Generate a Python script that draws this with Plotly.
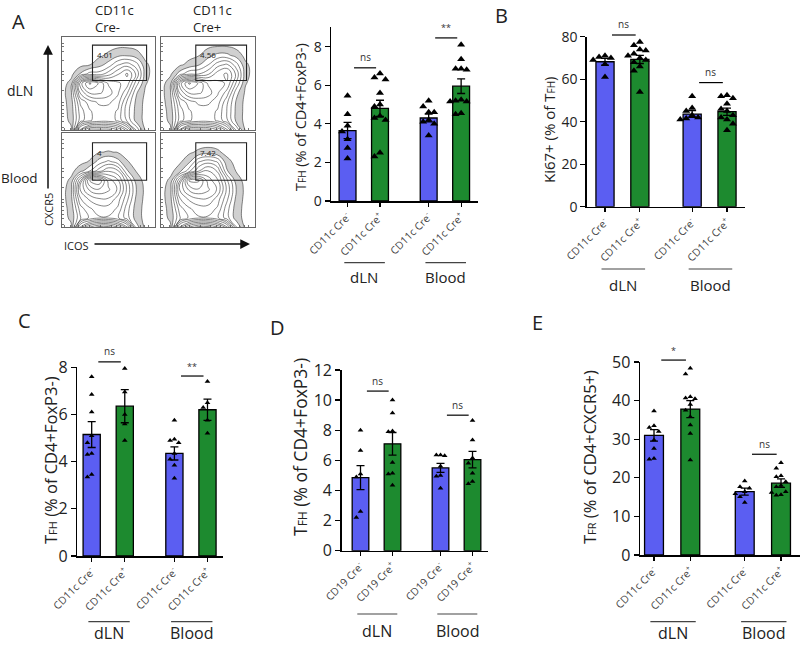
import plotly.graph_objects as go

W, H = 800, 645
FONT = "Open Sans"
BLUE = "#5b5ef2"
GREEN = "#1d8a2f"
TXT = "#222222"

# ======================= DATA =======================
CD11C_TICKS = ["CD11c Cre<sup>-</sup>", "CD11c Cre<sup>+</sup>",
               "CD11c Cre<sup>-</sup>", "CD11c Cre<sup>+</sup>"]
CD19_TICKS = ["CD19 Cre<sup>-</sup>", "CD19 Cre<sup>+</sup>",
              "CD19 Cre<sup>-</sup>", "CD19 Cre<sup>+</sup>"]
GROUP_NAMES = ["dLN", "Blood"]

# Panel A (bar chart)
A_MEAN = [3.65, 4.8, 4.3, 5.95]
A_SEM = [0.42, 0.42, 0.2, 0.38]
A_POINTS = [
    [5.45, 4.5, 3.9, 3.6, 3.2, 2.75, 2.2],
    [6.6, 6.4, 6.3, 5.6, 5.0, 4.9, 4.4, 4.3, 4.2, 2.5, 2.3],
    [5.2, 4.9, 4.6, 4.6, 4.2, 4.1, 4.0, 3.4],
    [8.1, 7.35, 6.85, 6.85, 6.8, 5.25, 5.2, 5.15, 5.15, 4.55, 4.5],
]
A_SIG = ["ns", "**"]

# Panel B
B_MEAN = [68.2, 69.3, 43.6, 44.7]
B_SEM = [1.6, 1.9, 1.6, 1.7]
B_POINTS = [
    [71, 70.5, 70, 69, 67, 61],
    [77.5, 76, 74, 73.5, 72, 71, 70, 69, 68, 66, 64, 54],
    [52, 46.5, 45, 43, 42, 41.5, 41],
    [52.5, 52, 51, 48.5, 46, 45, 43, 42, 41, 39, 36],
]
B_SIG = ["ns", "ns"]

# Panel C
C_MEAN = [5.15, 6.35, 4.35, 6.2]
C_SEM = [0.55, 0.7, 0.28, 0.45]
C_POINTS = [
    [7.6, 6.85, 6.1, 5.1, 4.8, 4.35, 4.3, 3.45, 3.35],
    [7.95, 6.95, 6.0, 5.6, 4.9],
    [5.75, 4.95, 4.9, 4.8, 4.35, 4.1, 3.85, 3.3],
    [7.4, 6.5, 6.3, 5.75, 5.2],
]
C_SIG = ["ns", "**"]

# Panel D
D_MEAN = [4.85, 7.1, 5.5, 6.05]
D_SEM = [0.8, 0.75, 0.3, 0.55]
D_POINTS = [
    [8.0, 6.65, 5.1, 4.9, 2.6, 2.2],
    [10.0, 9.15, 7.95, 7.9, 5.85, 5.15, 5.1, 4.35],
    [6.35, 6.35, 6.3, 5.6, 5.0, 4.95, 4.15],
    [8.65, 7.35, 6.15, 5.8, 5.15, 4.6, 4.45],
]
D_SIG = ["ns", "ns"]

# Panel E
E_MEAN = [31.0, 37.8, 16.4, 18.6]
E_SEM = [1.5, 2.2, 0.9, 1.1]
E_POINTS = [
    [37.3, 33.5, 33.0, 32.0, 29.8, 27.6, 25.0, 24.8],
    [48.4, 46.9, 41.0, 40.7, 40.5, 39.0, 37.5, 35.8, 33.7, 31.5, 24.6],
    [19.2, 17.7, 17.3, 16.4, 15.9, 15.1, 13.6],
    [23.9, 22.5, 20.5, 20.3, 19.0, 18.0, 17.7, 16.4, 16.2, 15.6, 15.5],
]
E_SIG = ["*", "ns"]

# Panel A flow plots: gate percentages and estimated density grids
# (rows = CXCR5 level bottom->top, columns = ICOS level left->right)
FLOW_GATE_PCT = ["4.01", "4.56", "4", "7.42"]
FLOW_DLN_CRENEG = [
    [0, 0.2, 7, 9, 9, 9, 8, 6, 2.5, 0.2, 0],
    [0, 0.5, 3, 4, 4.5, 4.5, 4, 2.5, 0.8, 0.1, 0],
    [0, 0.6, 3, 4, 4.5, 4.5, 4, 2.2, 0.8, 0.1, 0],
    [0, 0.7, 3.5, 4.5, 5, 5, 4.5, 2.5, 0.9, 0.1, 0],
    [0, 0.9, 5, 6.5, 6.5, 6, 5, 3.5, 1.2, 0.2, 0],
    [0, 0.6, 6, 8, 7, 5.5, 5, 4.5, 2.2, 0.4, 0],
    [0, 0.1, 1.2, 2.2, 2.2, 3, 4, 5, 3.2, 0.6, 0],
    [0, 0, 0.1, 0.3, 0.8, 1.4, 2.5, 3, 2.2, 0.5, 0],
    [0, 0, 0, 0, 0.2, 0.5, 0.9, 1.0, 0.7, 0.1, 0],
    [0, 0, 0, 0, 0, 0.1, 0.2, 0.2, 0.1, 0, 0],
    [0, 0, 0, 0, 0, 0, 0, 0, 0, 0, 0],
]
FLOW_DLN_CREPOS = [
    [0, 0.2, 7, 9, 9, 9, 8, 6, 2.5, 0.2, 0],
    [0, 0.5, 3, 4, 4.5, 4.5, 4, 2.8, 0.9, 0.1, 0],
    [0, 0.6, 3, 4, 4.5, 4.5, 4, 2.6, 0.9, 0.1, 0],
    [0, 0.8, 3.5, 4.5, 5, 5, 4.5, 2.8, 1.0, 0.1, 0],
    [0, 1.0, 5, 6.5, 6.5, 6, 5, 3.8, 1.4, 0.2, 0],
    [0, 0.8, 6, 8, 7, 5.5, 5, 4.8, 2.5, 0.4, 0],
    [0, 0.2, 1.5, 2.5, 2.6, 3.2, 4.5, 5, 3.2, 0.6, 0],
    [0, 0, 0.2, 0.6, 1.0, 1.8, 3, 3.5, 2.2, 0.5, 0],
    [0, 0, 0, 0.1, 0.3, 0.8, 1.3, 1.3, 0.8, 0.1, 0],
    [0, 0, 0, 0, 0, 0.2, 0.3, 0.3, 0.1, 0, 0],
    [0, 0, 0, 0, 0, 0, 0, 0, 0, 0, 0],
]
FLOW_BLOOD_CRENEG = [
    [0, 0.2, 6, 8, 9, 9, 8, 6, 1.5, 0.1, 0],
    [0, 0.5, 2.5, 3.5, 4, 4, 3.5, 2.2, 0.7, 0.1, 0],
    [0, 0.6, 3, 4, 4.5, 4.5, 4, 2.2, 0.7, 0.1, 0],
    [0, 0.8, 4, 5, 5.5, 5.5, 4.5, 2.8, 0.9, 0.1, 0],
    [0, 0.8, 5, 6.5, 7, 6.5, 5.5, 3.2, 1.1, 0.1, 0],
    [0, 0.5, 4, 8, 8.5, 6, 5, 2.8, 0.7, 0.1, 0],
    [0, 0.1, 0.8, 1.8, 3, 4, 3.5, 1.2, 0.3, 0, 0],
    [0, 0, 0.1, 0.4, 1.4, 2, 1.4, 0.4, 0.1, 0, 0],
    [0, 0, 0, 0.1, 0.3, 0.4, 0.3, 0.1, 0, 0, 0],
    [0, 0, 0, 0, 0, 0, 0, 0, 0, 0, 0],
    [0, 0, 0, 0, 0, 0, 0, 0, 0, 0, 0],
]
FLOW_BLOOD_CREPOS = [
    [0, 0.2, 6, 8, 9, 9, 8, 6, 2, 0.1, 0],
    [0, 0.5, 2.5, 3.5, 4, 4, 3.5, 2.2, 0.7, 0.1, 0],
    [0, 0.6, 3, 4, 4.5, 4.5, 4, 2.2, 0.7, 0.1, 0],
    [0, 0.8, 4, 5, 5.5, 5.5, 4.5, 2.8, 0.9, 0.1, 0],
    [0, 0.8, 5, 6.5, 7, 6.5, 5.5, 3.2, 1.1, 0.1, 0],
    [0, 0.5, 4, 8, 8, 6, 5, 2.8, 0.7, 0.1, 0],
    [0, 0.1, 0.8, 2.3, 4, 5, 4, 1.2, 0.3, 0, 0],
    [0, 0, 0.2, 0.9, 2.5, 3, 2.5, 0.6, 0.1, 0, 0],
    [0, 0, 0, 0.2, 0.5, 0.7, 0.5, 0.1, 0, 0, 0],
    [0, 0, 0, 0, 0, 0, 0, 0, 0, 0, 0],
    [0, 0, 0, 0, 0, 0, 0, 0, 0, 0, 0],
]

# ======================= LAYOUT CONSTANTS =======================
POS = [0, 1, 2.5, 3.5]           # bar slots on the x axis
BAR_W = 0.52

PANELS = [
    dict(mean=A_MEAN, sem=A_SEM, pts=A_POINTS, sig=A_SIG, sig_y=[6.9, 8.45],
         ticks=CD11C_TICKS, px=(331, 478), py=(27.3, 201), xr=(-0.51, 4.02), yr=(0, 9), dtick=2,
         msize=7, tfont=14, title="T<span style='font-size:10px'>FH</span> (% of CD4+FoxP3-)",
         title_xy=(300, 117), title_size=14.5, grp_line=262.7, grp_txt=277, grp_size=15),
    dict(mean=B_MEAN, sem=B_SEM, pts=B_POINTS, sig=B_SIG, sig_y=[80.8, 58.4],
         ticks=CD11C_TICKS, px=(586.7, 745), py=(36.7, 206.7), xr=(-0.525, 4.016), yr=(0, 80), dtick=20,
         msize=7, tfont=14, title="Ki67+ (% of T<span style='font-size:10px'>FH</span>)",
         title_xy=(549, 130), title_size=15, grp_line=269, grp_txt=285, grp_size=15),
    dict(mean=C_MEAN, sem=C_SEM, pts=C_POINTS, sig=C_SIG, sig_y=[8.23, 7.63],
         ticks=CD11C_TICKS, px=(77.3, 222.7), py=(367.3, 556), xr=(-0.435, 3.96), yr=(0, 8), dtick=2,
         msize=5, tfont=16, title="T<span style='font-size:11px'>FH</span> (% of CD4+FoxP3-)",
         title_xy=(50, 460), title_size=16.5, grp_line=621.7, grp_txt=633, grp_size=16),
    dict(mean=D_MEAN, sem=D_SEM, pts=D_POINTS, sig=D_SIG, sig_y=[10.6, 9.0],
         ticks=CD19_TICKS, px=(341.7, 488), py=(370, 550.7), xr=(-0.5875, 3.984), yr=(0, 12), dtick=2,
         msize=5, tfont=16, title="T<span style='font-size:12px'>FH</span> (% of CD4+FoxP3-)",
         title_xy=(300, 447), title_size=17.5, grp_line=614, grp_txt=631, grp_size=16),
    dict(mean=E_MEAN, sem=E_SEM, pts=E_POINTS, sig=E_SIG, sig_y=[50.5, 26.1],
         ticks=CD11C_TICKS, px=(640, 800), py=(362, 555), xr=(-0.386, 4.023), yr=(0, 50), dtick=10,
         msize=5, tfont=16, title="T<span style='font-size:11px'>FR</span> (% of CD4+CXCR5+)",
         title_xy=(590, 457), title_size=16.5, grp_line=621.7, grp_txt=633, grp_size=16),
]

FLOW = [
    dict(z=FLOW_DLN_CRENEG, px=(61.7, 155), py=(36.7, 130), gate=(3.3, 9.1, 5.3, 9.1), pct=FLOW_GATE_PCT[0]),
    dict(z=FLOW_DLN_CREPOS, px=(161, 255), py=(36.7, 130), gate=(3.7, 9.1, 5.3, 9.1), pct=FLOW_GATE_PCT[1]),
    dict(z=FLOW_BLOOD_CRENEG, px=(61.7, 155), py=(133.3, 227.3), gate=(3.3, 9.1, 5.0, 9.0), pct=FLOW_GATE_PCT[2]),
    dict(z=FLOW_BLOOD_CREPOS, px=(161, 255), py=(133.3, 227.3), gate=(3.7, 9.1, 5.0, 9.0), pct=FLOW_GATE_PCT[3]),
]


def xp(px):
    return px / W


def yp(py):
    return 1 - py / H


def swarm(vals, span, step):
    """Deterministic beeswarm offsets so overlapping markers sit side by side."""
    order = sorted(range(len(vals)), key=lambda i: -vals[i])
    placed, offs = [], [0.0] * len(vals)
    cands = [0, -step, step, -2 * step, 2 * step, -3 * step, 3 * step]
    for i in order:
        v = vals[i]
        for c in cands:
            ok = all(not (abs(v - pv) < 0.04 * span and abs(c - po) < step * 0.9) for pv, po in placed)
            if ok:
                offs[i] = c
                break
        placed.append((v, offs[i]))
    return offs


fig = go.Figure()
layout = dict(
    width=W, height=H, margin=dict(l=0, r=0, t=0, b=0, pad=0, autoexpand=False),
    autosize=False,
    paper_bgcolor="white", plot_bgcolor="white", showlegend=False,
    font=dict(family=FONT, color=TXT),
)
annotations, shapes = [], []

# ---------------- bar panels ----------------
for k, p in enumerate(PANELS):
    n = k + 1
    xa, ya = ("x" if n == 1 else f"x{n}"), ("y" if n == 1 else f"y{n}")
    xkey, ykey = ("xaxis" if n == 1 else f"xaxis{n}"), ("yaxis" if n == 1 else f"yaxis{n}")
    x0, x1 = p["px"]
    ytop, ybot = p["py"]
    r0, r1 = p["xr"]
    ymin, ymax = p["yr"]

    def vx(v, x0=x0, x1=x1, r0=r0, r1=r1):
        return xp(x0 + (v - r0) / (r1 - r0) * (x1 - x0))

    def vy(v, ytop=ytop, ybot=ybot, ymin=ymin, ymax=ymax):
        return yp(ybot - (v - ymin) / (ymax - ymin) * (ybot - ytop))

    fig.add_trace(go.Bar(
        x=POS, y=p["mean"], width=BAR_W, xaxis=xa, yaxis=ya,
        marker=dict(color=[BLUE, GREEN, BLUE, GREEN], line=dict(color="black", width=1.3)),
        error_y=dict(type="data", array=p["sem"], color="black", thickness=1.3, width=4),
        hoverinfo="skip",
    ))
    step = 0.17 if p["msize"] >= 7 else 0.13
    for j, vals in enumerate(p["pts"]):
        offs = swarm(vals, ymax - ymin, step)
        fig.add_trace(go.Scatter(
            x=[POS[j] + o for o in offs], y=vals, mode="markers", xaxis=xa, yaxis=ya,
            marker=dict(symbol="triangle-up", color="black", size=p["msize"]),
            cliponaxis=False, hoverinfo="skip",
        ))

    layout[xkey] = dict(
        domain=[xp(x0), xp(x1)], anchor=ya, range=[r0, r1], showgrid=False, zeroline=False,
        showline=True, linecolor="black", linewidth=1.5, ticks="outside", ticklen=4,
        tickwidth=1.2, tickcolor="black", tickvals=POS, ticktext=p["ticks"], tickangle=-45,
        tickfont=dict(size=10.5, color="#444444", family=FONT), automargin=False,
    )
    layout[ykey] = dict(
        domain=[yp(ybot), yp(ytop)], anchor=xa, range=[ymin, ymax], showgrid=False,
        zeroline=False, showline=True, linecolor="black", linewidth=1.5, ticks="outside",
        ticklen=5, tickwidth=1.3, tickcolor="black", dtick=p["dtick"], tick0=0,
        tickfont=dict(size=p["tfont"], color=TXT, family=FONT), automargin=False,
    )

    # y-axis title
    tx, ty = p["title_xy"]
    annotations.append(dict(
        x=xp(tx), y=yp(ty), xref="paper", yref="paper", text=p["title"], showarrow=False,
        textangle=-90, font=dict(size=p["title_size"], color=TXT, family=FONT),
        xanchor="center", yanchor="middle",
    ))

    # significance bars
    for g, (label, sy) in enumerate(zip(p["sig"], p["sig_y"])):
        left = POS[2 * g]
        shapes.append(dict(type="line", xref="paper", yref="paper",
                           x0=vx(left + 0.2), x1=vx(left + 0.88), y0=vy(sy), y1=vy(sy),
                           line=dict(color="black", width=1.2)))
        annotations.append(dict(
            x=(vx(left + 0.2) + vx(left + 0.88)) / 2, y=vy(sy) + 1.5 / H, xref="paper", yref="paper",
            text=label, showarrow=False, xanchor="center", yanchor="bottom",
            font=dict(size=10 if label == "ns" else 9, color="#333", family=FONT),
        ))

    # group underlines and names
    for g, name in enumerate(GROUP_NAMES):
        left = POS[2 * g]
        shapes.append(dict(type="line", xref="paper", yref="paper",
                           x0=vx(left - 0.1), x1=vx(left + 1.15),
                           y0=yp(p["grp_line"]), y1=yp(p["grp_line"]),
                           line=dict(color="#444", width=1.2)))
        annotations.append(dict(
            x=vx(left + 0.52), y=yp(p["grp_txt"]), xref="paper", yref="paper", text=name,
            showarrow=False, xanchor="center", yanchor="middle",
            font=dict(size=p["grp_size"], color=TXT, family=FONT),
        ))

# ---------------- flow plots (panel A left) ----------------
flow_ticks = [0.3, 0.9, 1.4, 1.8, 2.2, 2.6, 3.0, 4.2, 5.3, 5.9, 6.3, 7.4, 8.4, 8.9, 9.3]
for k, f in enumerate(FLOW):
    n = 6 + k
    xa, ya = f"x{n}", f"y{n}"
    x0, x1 = f["px"]
    ytop, ybot = f["py"]
    fig.add_trace(go.Contour(
        z=f["z"], x=list(range(11)), y=list(range(11)), xaxis=xa, yaxis=ya,
        zmin=0, zmax=10, showscale=False, hoverinfo="skip",
        contours=dict(coloring="fill", start=0.35, end=9.5, size=0.75),
        colorscale=[[0, "white"], [0.03, "white"], [0.035, "#d0d0d0"], [0.105, "#d0d0d0"],
                    [0.11, "white"], [1, "white"]],
        line=dict(color="#222222", width=0.55, smoothing=1.3),
    ))
    common = dict(range=[0, 10], showgrid=False, zeroline=False, showline=True, mirror=True,
                  linecolor="#666", linewidth=1, ticks="inside", ticklen=2, tickwidth=0.8,
                  tickcolor="#555", tickvals=flow_ticks, showticklabels=False, automargin=False)
    layout[f"xaxis{n}"] = dict(domain=[xp(x0), xp(x1)], anchor=ya, **common)
    layout[f"yaxis{n}"] = dict(domain=[yp(ybot), yp(ytop)], anchor=xa, **common)
    gx0, gx1, gy0, gy1 = f["gate"]
    shapes.append(dict(type="rect", xref=xa, yref=ya, x0=gx0, x1=gx1, y0=gy0, y1=gy1,
                       line=dict(color="#222", width=1.1), fillcolor="rgba(0,0,0,0)"))
    annotations.append(dict(x=gx0 + 0.25, y=gy1 - 0.2, xref=xa, yref=ya, text=f["pct"],
                            showarrow=False, xanchor="left", yanchor="top",
                            font=dict(size=8, color="#222", family=FONT)))

# headers and row labels
for (x, y, t, sz, anc) in [
    (93, 18.5, "CD11c<br>Cre-", 13, "left"),
    (191, 18.5, "CD11c<br>Cre+", 13, "left"),
    (20, 90, "dLN", 14, "center"), (19, 178, "Blood", 13.5, "center"),
    (62, 246, "ICOS", 11, "left"),
]:
    annotations.append(dict(x=xp(x), y=yp(y), xref="paper", yref="paper", text=t,
                            showarrow=False, xanchor=anc, yanchor="middle", align="left",
                            font=dict(size=sz, color=TXT, family=FONT)))
annotations.append(dict(x=xp(48), y=yp(210), xref="paper", yref="paper", text="CXCR5",
                        showarrow=False, textangle=-90, xanchor="center", yanchor="middle",
                        font=dict(size=11, color=TXT, family=FONT)))
# axis arrows
annotations.append(dict(x=xp(48), y=yp(45), xref="paper", yref="paper", text="", showarrow=True,
                        ax=0, ay=145, arrowhead=2, arrowsize=1.3, arrowwidth=1.5, arrowcolor="#111"))
annotations.append(dict(x=xp(250), y=yp(244), xref="paper", yref="paper", text="", showarrow=True,
                        ax=-157, ay=0, arrowhead=2, arrowsize=1.3, arrowwidth=1.5, arrowcolor="#111"))

# panel letters
for (x, y, t) in [(18.5, 21, "A"), (501.5, 15, "B"), (24, 321, "C"), (277, 327, "D"), (537, 322, "E")]:
    annotations.append(dict(x=xp(x), y=yp(y), xref="paper", yref="paper", text=t, showarrow=False,
                            xanchor="center", yanchor="middle",
                            font=dict(size=20, color=TXT, family=FONT)))

layout["annotations"] = annotations
layout["shapes"] = shapes
fig.update_layout(**layout)
fig.write_html(
    "out.html",
    config={"displayModeBar": False, "staticPlot": True},
    post_script="document.body.style.margin='0px';document.body.style.overflow='hidden';",
)
